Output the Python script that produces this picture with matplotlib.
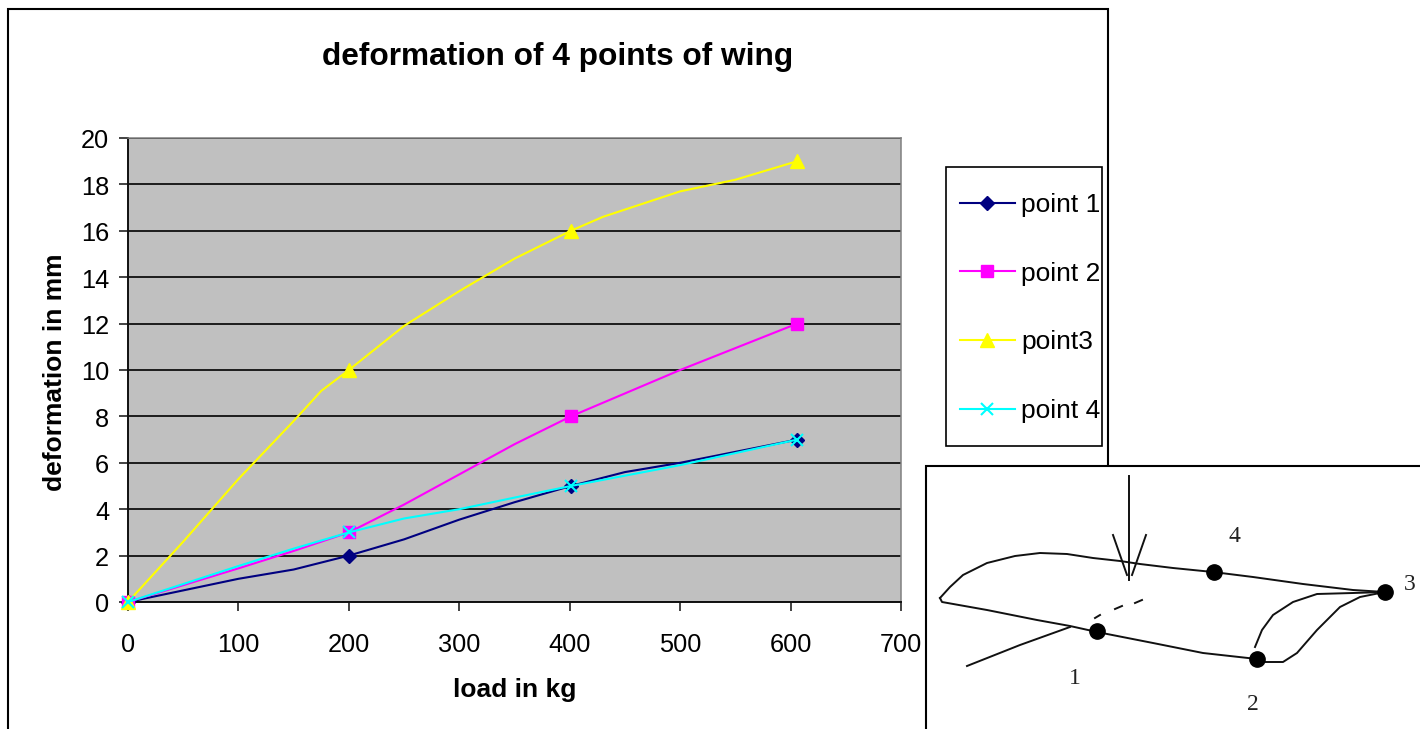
import numpy as np
import matplotlib
matplotlib.use("Agg")
from matplotlib import pyplot as plt
from matplotlib.transforms import ScaledTranslation

plt.rcParams['font.family'] = ['Liberation Sans', 'DejaVu Sans']

W, H = 1420, 729

# values (kg, mm), marked loads are at 0, 200, 401, 606
load1 = [0, 50, 100, 150, 200, 250, 300, 350, 401, 450, 500, 606]
point1 = [0, 0.5, 1, 1.4, 2, 2.7, 3.55, 4.3, 5, 5.6, 6, 7]
mark1 = [0, 4, 8, 11]

load2 = [0, 100, 150, 200, 250, 300, 350, 401, 500, 606]
point2 = [0, 1.45, 2.2, 3, 4.2, 5.5, 6.8, 8, 10, 12]
mark2 = [0, 3, 7, 9]

load3 = [0, 50, 100, 150, 175, 200, 250, 300, 350, 401, 430, 500, 550, 606]
point3 = [0, 2.6, 5.3, 7.8, 9.1, 10, 11.9, 13.4, 14.8, 16, 16.6, 17.7, 18.2, 19]
mark3 = [0, 5, 9, 13]

load4 = [0, 100, 150, 200, 250, 300, 350, 401, 500, 606]
point4 = [0, 1.55, 2.3, 3, 3.6, 4, 4.5, 5, 5.9, 7]
mark4 = [0, 3, 7, 9]

xticks = [0, 100, 200, 300, 400, 500, 600, 700]
yticks = [0, 2, 4, 6, 8, 10, 12, 14, 16, 18, 20]

# wing sketch, traced in pixels of the picture
wing_top = [(940, 598), (950, 587), (963, 575), (987, 563), (1015, 556), (1040, 553), (1067, 554),
            (1093, 558), (1120, 561), (1140, 564), (1173, 568), (1213, 572), (1253, 577), (1303, 584),
            (1353, 590), (1385, 592)]
wing_bottom = [(940, 598), (942, 602), (987, 610), (1037, 620), (1070, 626), (1097, 632), (1153, 643),
               (1203, 653), (1257, 659)]
wing_left = [(967, 666), (1020, 645), (1070, 627)]
wing_trail1 = [(1257, 659), (1263, 662), (1283, 662), (1297, 653), (1317, 630), (1340, 607), (1360, 597), (1385, 592)]
wing_trail2 = [(1255, 647), (1262, 630), (1273, 615), (1293, 602), (1317, 594), (1353, 593), (1385, 592)]
arrow = [[(1129, 476), (1129, 580)], [(1113, 535), (1127, 575)], [(1146, 535), (1132, 575)]]
dashes = [[(1115, 609), (1122, 606)], [(1135, 603), (1142, 600)], [(1095, 618), (1100, 615)]]
dots = [(1097, 631), (1257, 659), (1385, 592), (1214, 572)]
dot_labels = [("1", 1075, 678), ("2", 1253, 705), ("3", 1410, 584), ("4", 1234, 537)]

fig = plt.figure(figsize=(W / 100, H / 100), dpi=100, facecolor='white')


def px_axes(x0, y0, x1, y1):
    return [x0 / W, 1 - y1 / H, (x1 - x0) / W, (y1 - y0) / H]


# outer frame of the chart and the legend box
back = fig.add_axes([0, 0, 1, 1], zorder=0)
back.set_xlim(0, W)
back.set_ylim(H, 0)
back.axis('off')
back.plot([8, 8, 1108, 1108], [H + 5, 9, 9, 470], color='black', lw=1.5, solid_joinstyle='miter')
back.add_patch(plt.Rectangle((946, 167), 156, 279, facecolor='white', edgecolor='black', lw=1.2))

ax = fig.add_axes(px_axes(128, 138, 901, 602), zorder=1)
ax.set_facecolor('#C0C0C0')
ax.set_xlim(0, 700)
ax.set_ylim(0, 20)
ax.set_xticks(xticks)
ax.set_yticks(yticks)
ax.tick_params(axis='both', labelsize=18.3, length=6.5, width=1.1, color='#101010', pad=7)
ax.tick_params(axis='x', pad=16)
ax.grid(axis='y', color='black', lw=1.2)
ax.set_axisbelow(True)
ax.spines['top'].set_color('#808080')
ax.spines['right'].set_color('#808080')
ax.spines['left'].set_color('#101010')
ax.spines['bottom'].set_color('#101010')
for s in ax.spines.values():
    s.set_linewidth(1.1)
ax.spines['left'].set_linewidth(1.4)
ax.spines['bottom'].set_linewidth(1.4)

# y labels sit a little below their ticks
nudge = ScaledTranslation(0, -1 / 100, fig.dpi_scale_trans)
for lab in ax.get_yticklabels():
    lab.set_transform(lab.get_transform() + nudge)

ax.plot(load1, point1, color='#000080', lw=1.5, marker='D', ms=7, markevery=mark1, clip_on=False, zorder=3, label='point 1')
ax.plot(load2, point2, color='#FF00FF', lw=1.5, marker='s', ms=8, markevery=mark2, clip_on=False, zorder=3, label='point 2')
ax.plot(load3, point3, color='#FFFF00', lw=1.5, marker='^', ms=9.5, markevery=mark3, clip_on=False, zorder=3, label='point3')
ax.plot(load4, point4, color='#00FFFF', lw=1.5, marker='x', ms=9, mew=1.5, markevery=mark4, clip_on=False, zorder=3, label='point 4')

ax.set_xlabel('load in kg', fontsize=19, fontweight='bold', labelpad=15)
ax.set_ylabel('deformation in mm', fontsize=19, fontweight='bold', labelpad=10, y=0.495)
fig.text(558 / W, 1 - 57 / H, 'deformation of 4 points of wing', fontsize=22.8, fontweight='bold',
         ha='center', va='center', zorder=2)

leg = ax.legend(loc='upper left', bbox_to_anchor=(960 / W, 1 - 193 / H), bbox_transform=fig.transFigure,
                fontsize=19, numpoints=1, frameon=False,
                borderaxespad=0, borderpad=0, labelspacing=1.695, handlelength=2.08, handletextpad=0.23)

# wing sketch box on top
top = fig.add_axes([0, 0, 1, 1], zorder=3)
top.set_xlim(0, W)
top.set_ylim(H, 0)
top.axis('off')
top.patch.set_alpha(0)
top.add_patch(plt.Rectangle((926, 466), 600, 400, facecolor='white', edgecolor='black', lw=1.5))
for line in [wing_top, wing_bottom, wing_left, wing_trail1, wing_trail2] + arrow + dashes:
    xs, ys = zip(*line)
    top.plot(xs, ys, color='#111111', lw=1.4)
dx, dy = zip(*dots)
top.plot(dx, dy, 'o', color='black', ms=11, ls='none')
for t, x, y in dot_labels:
    top.text(x, y, t, fontsize=17, family='Liberation Serif', ha='center', va='center', color='#222222')

fig.savefig('out.png', dpi=100)
